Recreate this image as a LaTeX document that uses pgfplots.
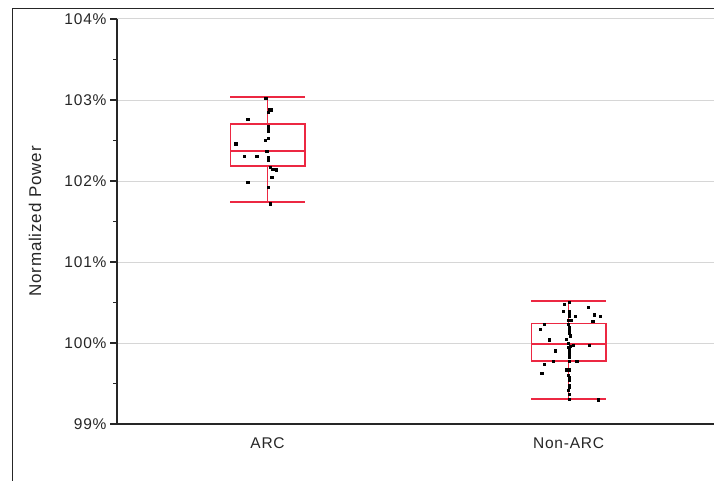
\documentclass[border=0pt]{standalone}
\usepackage{fontspec}
\setmainfont{Liberation Sans}[LetterSpace=5]
\usepackage{pgfplots}
\pgfplotsset{compat=1.18}
\definecolor{boxred}{RGB}{236,40,66}
\definecolor{gridgray}{RGB}{214,214,214}
\pgfplotsset{boxline/.style={draw=boxred, color=boxred, line width=1.6pt, mark=none, solid}}
\begin{document}
\begin{tikzpicture}
\useasboundingbox (0,0) rectangle (714pt,480pt);
\draw[line width=1pt, black!85] (12.5pt,-5pt) -- (12.5pt,471.5pt) -- (720pt,471.5pt);
\begin{axis}[
  at={(117pt,56pt)}, anchor=south west,
  scale only axis, width=597pt, height=405pt,
  xmin=-0.5, xmax=1.483, ymin=99, ymax=104,
  axis x line*=bottom, axis y line*=left,
  axis line style={line width=1.3pt, black!85},
  xtick={0,1}, xticklabels={ARC,Non-ARC},
  x tick style={draw=none},
  ytick={99,100,101,102,103,104},
  minor ytick={99.5,100.5,101.5,102.5,103.5},
  tick align=outside,
  major tick length=7pt, minor tick length=4pt,
  y tick style={line width=1.1pt, black!85},
  ymajorgrids, grid style={gridgray, line width=1pt},
  /pgf/number format/assume math mode=true,
  yticklabel={\pgfmathprintnumber{\tick}\%},
  tick label style={font=\fontsize{15.5}{18}\selectfont, text=black!85},
  xticklabel style={yshift=-3pt},
  ylabel={Normalized Power},
  ylabel style={at={(axis description cs:-0.1374,0.5)}, anchor=center, font=\fontsize{17}{20}\selectfont, text=black!85},
  clip=false,
]
% ARC box (lower whisker 101.744, Q1 102.185, median 102.37, Q3 102.704, upper whisker 103.04)
\addplot[boxline] coordinates {(-0.1235,102.185) (0.1235,102.185) (0.1235,102.704) (-0.1235,102.704) (-0.1235,102.185)};
\addplot[boxline] coordinates {(-0.1235,102.37) (0.1235,102.37)};
\addplot[boxline] coordinates {(0,102.704) (0,103.04)};
\addplot[boxline] coordinates {(0,102.185) (0,101.744)};
\addplot[boxline] coordinates {(-0.1235,103.04) (0.1235,103.04)};
\addplot[boxline] coordinates {(-0.1235,101.744) (0.1235,101.744)};
% Non-ARC box (lower whisker 99.305, Q1 99.78, median 99.988, Q3 100.243, upper whisker 100.522)
\addplot[boxline] coordinates {(0.8765,99.78) (1.1235,99.78) (1.1235,100.243) (0.8765,100.243) (0.8765,99.78)};
\addplot[boxline] coordinates {(0.8765,99.988) (1.1235,99.988)};
\addplot[boxline] coordinates {(1,100.243) (1,100.522)};
\addplot[boxline] coordinates {(1,99.78) (1,99.305)};
\addplot[boxline] coordinates {(0.8765,100.522) (1.1235,100.522)};
\addplot[boxline] coordinates {(0.8765,99.305) (1.1235,99.305)};
\addplot[only marks, mark=square*, mark size=1.1pt, black] coordinates {
(-0.006,103.02) (0.005,102.89) (0.012,102.88) (0.002,102.85) (-0.066,102.765)
(0.002,102.68) (0.002,102.65) (0.002,102.62) (-0.106,102.46) (0.003,102.53)
(-0.007,102.50) (-0.003,102.37) (-0.077,102.31) (-0.036,102.31) (0.003,102.29)
(0.003,102.26) (0.008,102.17) (0.017,102.15) (0.028,102.14) (0.014,102.045)
(-0.066,101.99) (0.003,101.92) (0.008,101.72)
};
\addplot[only marks, mark=square*, mark size=1.1pt, black] coordinates {
(0.986,100.478) (1.002,100.50) (1.066,100.44) (0.981,100.39) (1.002,100.395)
(1.002,100.36) (1.002,100.33) (1.022,100.33) (1.086,100.35) (1.105,100.33)
(1.008,100.28) (0.999,100.28) (1.080,100.27) (0.920,100.235) (0.999,100.23)
(1.002,100.20) (1.002,100.17) (1.002,100.15) (1.002,100.12) (0.905,100.17)
(1.005,100.09) (0.991,100.05) (0.936,100.04) (0.999,99.995) (1.005,99.965)
(1.016,99.975) (0.999,99.945) (1.002,99.925) (1.069,99.975) (0.955,99.905)
(1.002,99.89) (1.002,99.85) (1.002,99.82) (0.950,99.78) (1.027,99.78)
(1.002,99.78) (0.920,99.74) (0.991,99.67) (1.002,99.67) (0.911,99.63)
(1.002,99.575) (1.002,99.54) (1.002,99.48) (1.002,99.45) (1.002,99.37)
(1.099,99.30) (1.002,99.31) (0.998,99.42) (1.000,99.60)
};
\end{axis}
\end{tikzpicture}
\end{document}
